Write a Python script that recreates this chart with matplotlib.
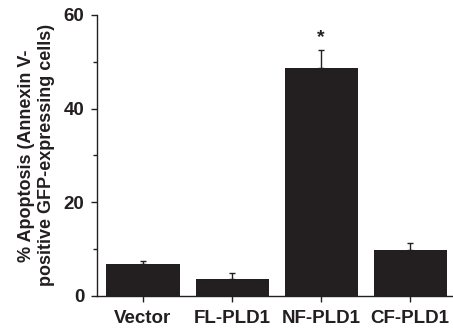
import matplotlib
matplotlib.use("Agg")
import matplotlib.pyplot as plt
from matplotlib.ticker import MultipleLocator

categories = ["Vector", "FL-PLD1", "NF-PLD1", "CF-PLD1"]
values = [6.8, 3.6, 48.7, 9.7]
errors = [0.7, 1.25, 3.7, 1.7]
sig_label = "*"
sig_index = 2

plt.rcParams['font.family'] = ['Liberation Sans', 'DejaVu Sans']
plt.rcParams['font.weight'] = 'bold'

fig = plt.figure(figsize=(4.53, 3.31), dpi=100)
ax = fig.add_axes([0.214, 0.106, 0.786, 0.849])
x = list(range(len(categories)))
color = '#231f20'
ax.bar(x, values, width=0.82, color=color, zorder=2)
ax.errorbar(x, values, yerr=[[0]*len(values), errors], fmt='none', ecolor=color,
            elinewidth=1.0, capsize=2, capthick=1.0, zorder=1)
ax.text(sig_index, values[sig_index] + errors[sig_index] + 0.9, sig_label,
        ha='center', va='bottom', fontsize=14, fontweight='bold', color=color)

ax.set_xlim(-0.517, 3.48)
ax.set_ylim(0, 60)
ax.yaxis.set_major_locator(MultipleLocator(20))
ax.yaxis.set_minor_locator(MultipleLocator(10))
ax.set_xticks(x)
ax.set_xticklabels(categories, fontsize=13.5, fontweight='bold')
ax.tick_params(axis='y', which='major', length=4, width=1, labelsize=13.5, pad=5, direction='out', colors=color)
ax.tick_params(axis='y', which='minor', length=3, width=1, direction='out', colors=color)
ax.tick_params(axis='x', length=4, width=1, pad=6, direction='out', colors=color)
for s in ['top', 'right']:
    ax.spines[s].set_visible(False)
for s in ['left', 'bottom']:
    ax.spines[s].set_linewidth(1.0)
    ax.spines[s].set_color(color)
ax.set_ylabel("% Apoptosis (Annexin V-\npositive GFP-expressing cells)",
              fontsize=13, fontweight='bold', labelpad=6, linespacing=1.25, color=color)
fig.savefig("out.png", dpi=100)
